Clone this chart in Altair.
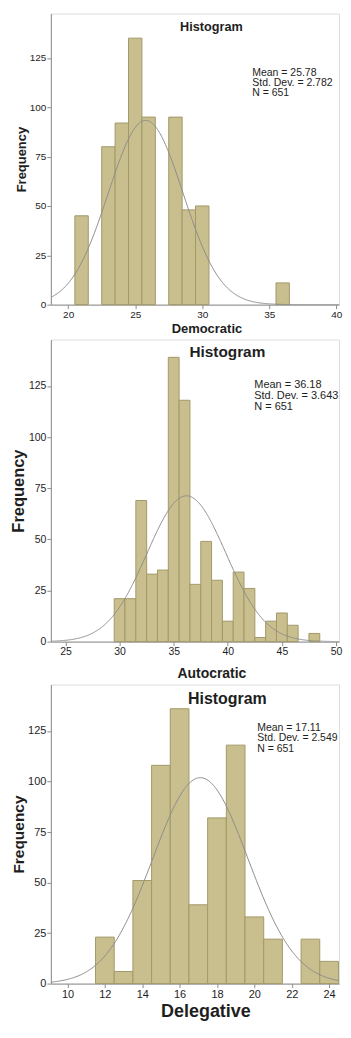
import altair as alt
import pandas as pd

# ---- data ----
dem_values = [21, 23, 24, 25, 26, 28, 29, 30, 36]
dem_counts = [45, 80, 92, 135, 95, 95, 48, 50, 11]

aut_values = [30, 31, 32, 33, 34, 35, 36, 37, 38, 39, 40, 41, 42, 43, 44, 45, 46, 47, 48]
aut_counts = [21, 21, 69, 33, 35, 139, 118, 28, 49, 30, 10, 34, 26, 2, 10, 14, 8, 0, 4]

del_values = [12, 13, 14, 15, 16, 17, 18, 19, 20, 21, 22, 23, 24]
del_counts = [23, 6, 51, 108, 136, 39, 82, 118, 33, 22, 0, 22, 11]

names = ["Democratic", "Autocratic", "Delegative"]
means = [25.78, 36.18, 17.11]
sds = [2.782, 3.643, 2.549]
ns = [651, 651, 651]
mean_labels = ["25.78", "36.18", "17.11"]
sd_labels = ["2.782", "3.643", "2.549"]

x_ticks = [[20, 25, 30, 35, 40], [25, 30, 35, 40, 45, 50], [10, 12, 14, 16, 18, 20, 22, 24]]
y_ticks = [0, 25, 50, 75, 100, 125]

# ---- styling / layout ----
FONT = "Liberation Sans"
BG = "#EEEAE6"
BAR_FILL = "#C9BF8E"
BAR_STROKE = "#A39968"
CURVE = "#8C8C8C"
AXIS = "#8E8E8E"
TXT = "#1E1E1E"
W = 289

panels = [
    dict(vals=dem_values, cnts=dem_counts, xdom=[18.71, 40.2], ymax=147.5, h=292,
         tick_fs=10, ytitle_fs=13, ytitle_x=-29.3, xtitle_fs=13, xtitle_x=156, xtitle_y=28,
         hist_fs=12.7, hist_x=161, hist_y=14, st_fs=10.5, st_x=202, st_y=55, st_lh=10),
    dict(vals=aut_values, cnts=aut_counts, xdom=[23.645, 50.28], ymax=147.7, h=303,
         tick_fs=10.5, ytitle_fs=16.5, ytitle_x=-32.7, xtitle_fs=14, xtitle_x=161, xtitle_y=36,
         hist_fs=15.4, hist_x=177, hist_y=13, st_fs=11, st_x=204, st_y=40, st_lh=11),
    dict(vals=del_values, cnts=del_counts, xdom=[9.11, 24.53], ymax=148.0, h=300,
         tick_fs=11, ytitle_fs=15.5, ytitle_x=-32.7, xtitle_fs=18, xtitle_x=155, xtitle_y=33,
         hist_fs=16, hist_x=177, hist_y=15, st_fs=10.5, st_x=207, st_y=38.5, st_lh=10.5),
]


def make_panel(i):
    p = panels[i]
    df = pd.DataFrame({"v": p["vals"], "c": p["cnts"]})
    xscale = alt.Scale(domain=p["xdom"], nice=False, zero=False)
    yscale = alt.Scale(domain=[0, p["ymax"]], nice=False)

    xaxis = alt.Axis(values=x_ticks[i], title=names[i], grid=False, tickSize=4,
                     labelPadding=1, labelFont=FONT, labelFontSize=p["tick_fs"],
                     labelColor=TXT, tickColor=AXIS, domainColor=AXIS,
                     titleFont=FONT, titleFontSize=p["xtitle_fs"], titleFontWeight="bold",
                     titleColor=TXT, titleX=p["xtitle_x"], titleY=p["xtitle_y"],
                     titleBaseline="alphabetic", titleAlign="center", labelFlush=False)
    yaxis = alt.Axis(values=y_ticks, title="Frequency", grid=False, tickSize=4,
                     labelPadding=1, labelFont=FONT, labelFontSize=p["tick_fs"],
                     labelColor=TXT, tickColor=AXIS, domainColor=AXIS,
                     titleFont=FONT, titleFontSize=p["ytitle_fs"], titleFontWeight="bold",
                     titleColor=TXT, titleX=p["ytitle_x"], titleY=p["h"] / 2,
                     titleBaseline="middle", titleAlign="center",
                     titleAngle=270, labelFlush=False)

    bars = alt.Chart(df).transform_filter("datum.c > 0").transform_calculate(
        lo="datum.v - 0.5", hi="datum.v + 0.5", zero="0"
    ).mark_rect(fill=BAR_FILL, stroke=BAR_STROKE, strokeWidth=1).encode(
        x=alt.X("lo:Q", scale=xscale, axis=xaxis),
        x2="hi:Q",
        y=alt.Y("c:Q", scale=yscale, axis=yaxis),
        y2="zero:Q",
    )

    m, s, n = means[i], sds[i], ns[i]
    curve = alt.Chart(alt.sequence(p["xdom"][0], p["xdom"][1] + 0.02, 0.05, as_="x")).transform_calculate(
        y=f"{n} * exp(-0.5 * pow((datum.x - {m}) / {s}, 2)) / ({s} * sqrt(2 * PI))"
    ).mark_line(color=CURVE, strokeWidth=1, clip=True).encode(
        x=alt.X("x:Q", scale=xscale),
        y=alt.Y("y:Q", scale=yscale),
    )

    title_df = pd.DataFrame({"t": ["Histogram"]})
    htitle = alt.Chart(title_df).mark_text(
        font=FONT, fontSize=p["hist_fs"], fontWeight="bold", color=TXT,
        align="center", baseline="middle"
    ).encode(x=alt.value(p["hist_x"]), y=alt.value(p["hist_y"]), text="t:N")

    stats = alt.Chart(title_df).mark_text(
        font=FONT, fontSize=p["st_fs"], color=TXT, align="left", baseline="top",
        lineHeight=p["st_lh"], clip=True
    ).encode(
        x=alt.value(p["st_x"]), y=alt.value(p["st_y"]),
        text=alt.value([f"Mean = {mean_labels[i]}", f"Std. Dev. = {sd_labels[i]}", f"N = {ns[i]}"]),
    )

    return alt.layer(bars, curve, htitle, stats).properties(width=W, height=p["h"])


chart = alt.vconcat(make_panel(0), make_panel(1), make_panel(2), spacing=2).properties(
    padding={"left": 1, "top": 3, "right": 0, "bottom": 0}
).configure_view(fill=BG, stroke="#D6D2CE", strokeWidth=1).configure(background="white")

chart.save("out.html", embed_options={"renderer": "svg", "actions": False})
